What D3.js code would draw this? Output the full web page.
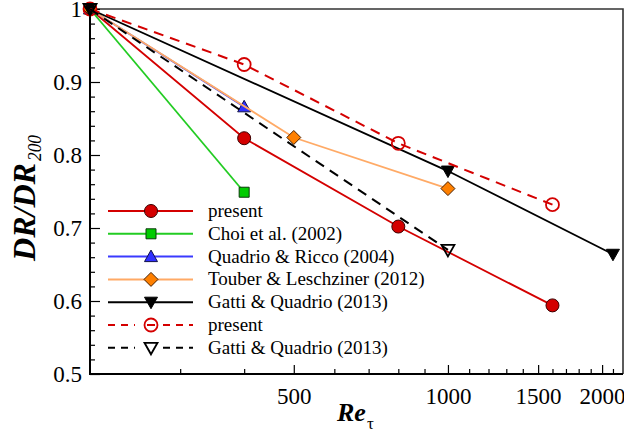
<!DOCTYPE html>
<html>
<head>
<meta charset="utf-8">
<script src="https://cdn.jsdelivr.net/npm/d3@7"></script>
<style>
  html, body { margin: 0; padding: 0; background: #fff; }
  svg { display: block; }
  text { font-family: "Liberation Serif", "Times New Roman", serif; fill: #000; }
</style>
</head>
<body>
<svg id="chart" width="624" height="436"></svg>
<script>
// Drag-reduction ratio DR/DR_200 against friction Reynolds number
const presentRe      = [200, 400, 800, 1600];
const presentDR      = [1.0, 0.823, 0.702, 0.594];
const choiRe         = [200, 400];
const choiDR         = [1.0, 0.749];
const quadrioRe      = [200, 400];
const quadrioDR      = [1.0, 0.866];
const touberRe       = [200, 500, 1000];
const touberDR       = [1.0, 0.824, 0.754];
const gattiRe        = [200, 1000, 2100];
const gattiDR        = [1.0, 0.778, 0.664];
const presentOpenRe  = [200, 400, 800, 1600];
const presentOpenDR  = [1.0, 0.924, 0.816, 0.732];
const gattiOpenRe    = [200, 1000];
const gattiOpenDR    = [1.0, 0.670];

const seriesNames = [
  "present",
  "Choi et al. (2002)",
  "Quadrio & Ricco (2004)",
  "Touber & Leschziner (2012)",
  "Gatti & Quadrio (2013)",
  "present",
  "Gatti & Quadrio (2013)"
];

const xMajorTicks = [500, 1000, 1500, 2000];
const xMinorTicks = [300, 400, 600, 700, 800, 900, 1100, 1200, 1300, 1400,
                     1600, 1700, 1800, 1900, 2100];
const yMajorTicks = [0.5, 0.6, 0.7, 0.8, 0.9, 1.0];
const yTickLabels = ["0.5", "0.6", "0.7", "0.8", "0.9", "1"];

const series = [
  { name: seriesNames[0], re: presentRe, dr: presentDR, line: "#d40000", dash: null,
    marker: "circle", fill: "#d40000", stroke: "#3a0000" },
  { name: seriesNames[1], re: choiRe, dr: choiDR, line: "#22cc22", dash: null,
    marker: "square", fill: "#00cc00", stroke: "#0a3a0a" },
  { name: seriesNames[2], re: quadrioRe, dr: quadrioDR, line: "#3a3aff", dash: null,
    marker: "triUp", fill: "#3030ff", stroke: "#10104a" },
  { name: seriesNames[3], re: touberRe, dr: touberDR, line: "#ffaa66", dash: null,
    marker: "diamond", fill: "#ff8000", stroke: "#4a2000" },
  { name: seriesNames[4], re: gattiRe, dr: gattiDR, line: "#000000", dash: null,
    marker: "triDown", fill: "#000000", stroke: "#000000" },
  { name: seriesNames[5], re: presentOpenRe, dr: presentOpenDR, line: "#d40000", dash: "10,7",
    marker: "circle", fill: "none", stroke: "#d40000" },
  { name: seriesNames[6], re: gattiOpenRe, dr: gattiOpenDR, line: "#000000", dash: "10,7",
    marker: "triDown", fill: "none", stroke: "#000000" }
];

const serif = '"Liberation Serif", "Times New Roman", serif';
const svg = d3.select("#chart");
const plot = { left: 90, top: 9, right: 623, bottom: 374 };

const x = d3.scaleLog().domain([200, 2197]).range([plot.left, plot.right]);
const y = d3.scaleLinear().domain([0.5, 1.0]).range([plot.bottom, plot.top]);

// frame: top and right edges
svg.append("path")
  .attr("d", `M${plot.left},${plot.top}H${plot.right}V${plot.bottom}`)
  .attr("fill", "none").attr("stroke", "#333").attr("stroke-width", 1.6);

// bottom axis, ticks pointing inward
const xAxisMajor = d3.axisBottom(x).tickValues(xMajorTicks).tickSize(-9)
  .tickPadding(14).tickFormat(d3.format("d"));
const gx = svg.append("g").attr("transform", `translate(0,${plot.bottom})`).call(xAxisMajor);
gx.attr("font-family", serif);
gx.select(".domain").remove();
gx.selectAll(".tick line").attr("stroke", "#000").attr("stroke-width", 1.2);
gx.selectAll(".tick text").style("font-family", serif).style("font-size", "23px")
  .attr("fill", "#000").attr("dy", "0.71em");
const xAxisMinor = d3.axisBottom(x).tickValues(xMinorTicks).tickSize(-5).tickFormat("");
const gxm = svg.append("g").attr("transform", `translate(0,${plot.bottom})`).call(xAxisMinor);
gxm.select(".domain").remove();
gxm.selectAll(".tick line").attr("stroke", "#000").attr("stroke-width", 1.2);

// left axis, ticks pointing inward
const yMinor = d3.range(0.52, 1.0, 0.02).filter(v => Math.abs(v * 10 - Math.round(v * 10)) > 1e-6);
const yAxisMajor = d3.axisLeft(y).tickValues(yMajorTicks).tickSize(-10)
  .tickFormat((d, i) => yTickLabels[i]);
const gy = svg.append("g").attr("transform", `translate(${plot.left},0)`).call(yAxisMajor);
gy.attr("font-family", serif);
gy.select(".domain").remove();
gy.selectAll(".tick line").attr("stroke", "#000").attr("stroke-width", 1.2);
gy.selectAll(".tick text").style("font-family", serif).style("font-size", "23px")
  .attr("fill", "#000").attr("x", -8);
const yAxisMinor = d3.axisLeft(y).tickValues(yMinor).tickSize(-5).tickFormat("");
const gym = svg.append("g").attr("transform", `translate(${plot.left},0)`).call(yAxisMinor);
gym.select(".domain").remove();
gym.selectAll(".tick line").attr("stroke", "#000").attr("stroke-width", 1.2);

// axis lines
svg.append("path")
  .attr("d", `M${plot.left},${plot.top}V${plot.bottom}H${plot.right}`)
  .attr("fill", "none").attr("stroke", "#000").attr("stroke-width", 2);

// marker shapes
function markerPath(kind) {
  switch (kind) {
    case "circle":  return d3.symbol(d3.symbolCircle, Math.PI * 6.5 * 6.5)();
    case "square":  return "M-5,-5H5V5H-5Z";
    case "triUp":   return "M0,-6.5L6.5,5L-6.5,5Z";
    case "triDown": return "M0,6.5L6.5,-5L-6.5,-5Z";
    case "diamond": return "M0,-7L7,0L0,7L-7,0Z";
  }
}

const lineGen = d3.line().x(d => x(d[0])).y(d => y(d[1]));

series.forEach(s => {
  const pts = s.re.map((r, i) => [r, s.dr[i]]);
  const g = svg.append("g");
  g.append("path")
    .attr("d", lineGen(pts))
    .attr("fill", "none")
    .attr("stroke", s.line)
    .attr("stroke-width", s.dash ? 2 : 1.8)
    .attr("stroke-dasharray", s.dash);
  g.selectAll("path.m").data(pts).join("path")
    .attr("class", "m")
    .attr("d", markerPath(s.marker))
    .attr("transform", d => `translate(${x(d[0])},${y(d[1])})`)
    .attr("fill", s.fill)
    .attr("stroke", s.stroke)
    .attr("stroke-width", s.fill === "none" ? 1.8 : 1);
});

// legend
const legend = { x0: 108, x1: 193, xm: 151, xt: 208, y0: 211, dy: 22.8 };
series.forEach((s, i) => {
  const yy = legend.y0 + i * legend.dy;
  const g = svg.append("g");
  if (s.dash) {
    g.append("path").attr("d", `M${legend.x0},${yy}H${legend.xm - 16}`)
      .attr("stroke", s.line).attr("stroke-width", 2).attr("stroke-dasharray", "7,6");
    g.append("path").attr("d", `M${legend.xm + 12},${yy}H${legend.x1}`)
      .attr("stroke", s.line).attr("stroke-width", 2).attr("stroke-dasharray", "7,6");
    if (s.marker === "circle") {
      g.append("path").attr("d", `M${legend.xm - 4},${yy}H${legend.xm + 4}`)
        .attr("stroke", s.line).attr("stroke-width", 2);
    }
  } else {
    g.append("path").attr("d", `M${legend.x0},${yy}H${legend.x1}`)
      .attr("stroke", s.line).attr("stroke-width", 2);
  }
  g.append("path")
    .attr("d", markerPath(s.marker))
    .attr("transform", `translate(${legend.xm},${yy})`)
    .attr("fill", s.fill)
    .attr("stroke", s.stroke)
    .attr("stroke-width", s.fill === "none" ? 1.8 : 1);
  g.append("text")
    .attr("x", legend.xt).attr("y", yy + 6)
    .attr("font-size", 19)
    .text(s.name);
});

// axis titles
const yt = svg.append("g").attr("transform", "translate(35,261) rotate(-90)");
yt.append("text").attr("x", 0).attr("y", 0)
  .attr("font-size", 32).attr("font-weight", "bold").attr("font-style", "italic")
  .attr("textLength", 98).attr("lengthAdjust", "spacingAndGlyphs")
  .text("DR/DR");
yt.append("text").attr("x", 100).attr("y", 6)
  .attr("font-size", 18).attr("font-style", "italic")
  .attr("textLength", 26).attr("lengthAdjust", "spacingAndGlyphs")
  .text("200");

svg.append("text").attr("x", 337).attr("y", 421)
  .attr("font-size", 26).attr("font-weight", "bold").attr("font-style", "italic")
  .text("Re");
svg.append("text").attr("x", 367).attr("y", 429)
  .attr("font-size", 17).text("τ");
</script>
</body>
</html>
